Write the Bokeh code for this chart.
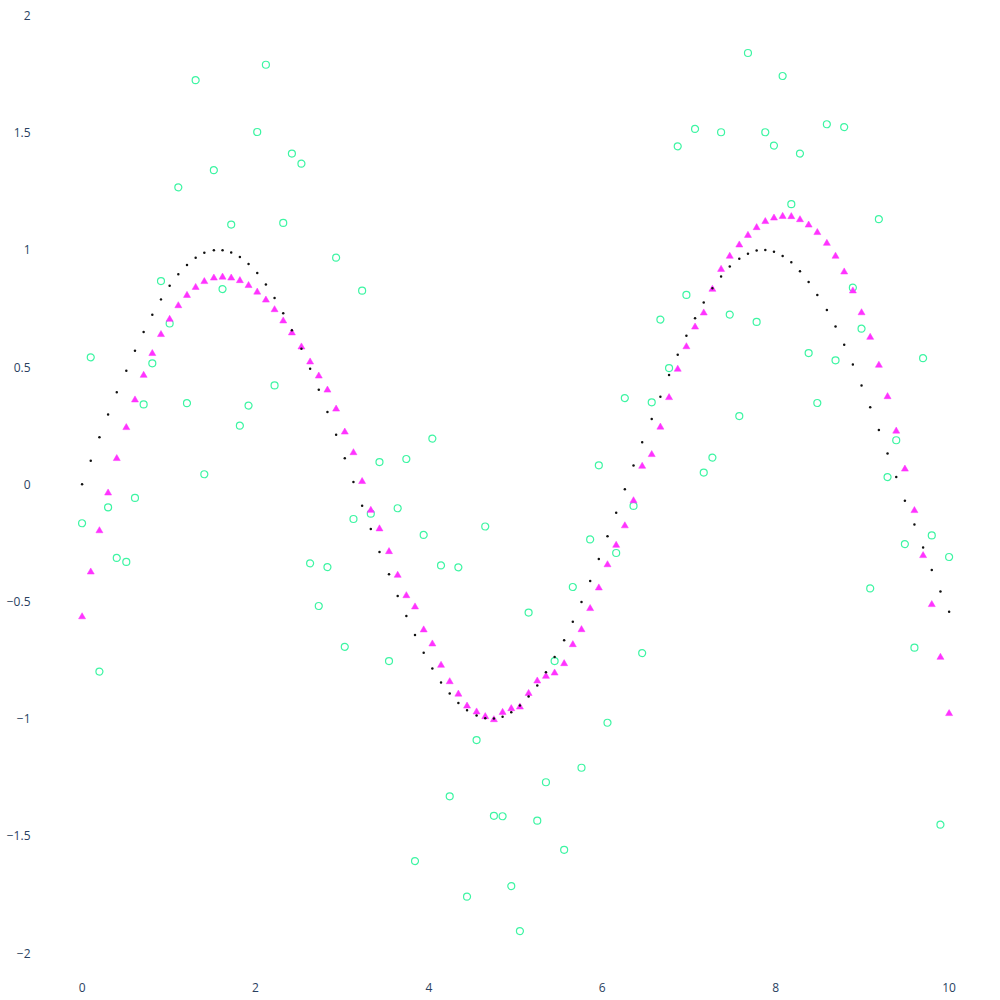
from bokeh.plotting import figure
from bokeh.models import Range1d, FixedTicker
from bokeh.embed import file_html
from bokeh.resources import INLINE

# x grid (100 evenly spaced samples from 0 to 10)
x_vals = [
    0.00, 0.10, 0.20, 0.30, 0.40, 0.51, 0.61, 0.71, 0.81, 0.91,
    1.01, 1.11, 1.21, 1.31, 1.41, 1.52, 1.62, 1.72, 1.82, 1.92,
    2.02, 2.12, 2.22, 2.32, 2.42, 2.53, 2.63, 2.73, 2.83, 2.93,
    3.03, 3.13, 3.23, 3.33, 3.43, 3.54, 3.64, 3.74, 3.84, 3.94,
    4.04, 4.14, 4.24, 4.34, 4.44, 4.55, 4.65, 4.75, 4.85, 4.95,
    5.05, 5.15, 5.25, 5.35, 5.45, 5.56, 5.66, 5.76, 5.86, 5.96,
    6.06, 6.16, 6.26, 6.36, 6.46, 6.57, 6.67, 6.77, 6.87, 6.97,
    7.07, 7.17, 7.27, 7.37, 7.47, 7.58, 7.68, 7.78, 7.88, 7.98,
    8.08, 8.18, 8.28, 8.38, 8.48, 8.59, 8.69, 8.79, 8.89, 8.99,
    9.09, 9.19, 9.29, 9.39, 9.49, 9.60, 9.70, 9.80, 9.90, 10.00,
]

# black dots
dots_y = [
    0.000, 0.101, 0.201, 0.298, 0.393, 0.484, 0.570, 0.650, 0.723, 0.789,
    0.847, 0.896, 0.936, 0.967, 0.988, 0.999, 0.999, 0.989, 0.970, 0.940,
    0.901, 0.852, 0.795, 0.730, 0.657, 0.578, 0.493, 0.403, 0.309, 0.212,
    0.111, 0.010, -0.091, -0.191, -0.289, -0.384, -0.476, -0.562, -0.643, -0.718,
    -0.786, -0.845, -0.892, -0.933, -0.964, -0.986, -0.998, -0.999, -0.991, -0.972,
    -0.944, -0.905, -0.858, -0.802, -0.737, -0.665, -0.586, -0.502, -0.412, -0.319,
    -0.222, -0.121, -0.021, 0.080, 0.180, 0.279, 0.374, 0.466, 0.553, 0.634,
    0.708, 0.776, 0.836, 0.887, 0.929, 0.962, 0.984, 0.997, 1.000, 0.992,
    0.974, 0.947, 0.909, 0.863, 0.808, 0.744, 0.673, 0.595, 0.511, 0.422,
    0.329, 0.232, 0.131, 0.031, -0.070, -0.171, -0.269, -0.365, -0.457, -0.544,
]

# magenta triangles
tri_y = [
    -0.565, -0.374, -0.198, -0.037, 0.110, 0.242, 0.360, 0.465, 0.558, 0.639,
    0.704, 0.762, 0.806, 0.840, 0.865, 0.880, 0.884, 0.880, 0.869, 0.848,
    0.820, 0.786, 0.745, 0.697, 0.646, 0.586, 0.522, 0.462, 0.402, 0.321,
    0.223, 0.135, 0.012, -0.111, -0.190, -0.287, -0.388, -0.475, -0.523, -0.621,
    -0.681, -0.772, -0.842, -0.895, -0.946, -0.971, -0.991, -1.004, -0.973, -0.957,
    -0.950, -0.892, -0.839, -0.819, -0.805, -0.765, -0.684, -0.620, -0.530, -0.442,
    -0.343, -0.260, -0.177, -0.070, 0.077, 0.127, 0.244, 0.370, 0.491, 0.587,
    0.671, 0.731, 0.832, 0.917, 0.973, 1.021, 1.062, 1.095, 1.121, 1.136,
    1.143, 1.142, 1.129, 1.106, 1.074, 1.028, 0.973, 0.906, 0.825, 0.732,
    0.627, 0.508, 0.374, 0.227, 0.065, -0.112, -0.304, -0.513, -0.738, -0.978,
]

# aquamarine open circles
circ_y = [
    -0.166, 0.542, -0.799, -0.098, -0.314, -0.331, -0.058, 0.341, 0.516, 0.867,
    0.686, 1.267, 0.346, 1.724, 0.043, 1.340, 0.833, 1.108, 0.250, 0.336,
    1.503, 1.790, 0.422, 1.115, 1.411, 1.368, -0.337, -0.519, -0.353, 0.967,
    -0.693, -0.148, 0.826, -0.125, 0.095, -0.754, -0.102, 0.108, -1.607, -0.216,
    0.195, -0.346, -1.331, -0.354, -1.759, -1.091, -0.180, -1.414, -1.416, -1.714,
    -1.906, -0.547, -1.435, -1.271, -0.754, -1.559, -0.438, -1.209, -0.235, 0.081,
    -1.017, -0.293, 0.368, -0.092, -0.720, 0.350, 0.703, 0.496, 1.442, 0.808,
    1.516, 0.050, 0.114, 1.502, 0.724, 0.291, 1.840, 0.693, 1.502, 1.445,
    1.742, 1.195, 1.411, 0.560, 0.347, 1.536, 0.529, 1.524, 0.839, 0.664,
    -0.444, 1.131, 0.031, 0.188, -0.255, -0.697, 0.538, -0.218, -1.452, -0.310,
]

x_ticks = [0, 2, 4, 6, 8, 10]
y_ticks = [-2, -1.5, -1, -0.5, 0, 0.5, 1, 1.5, 2]
y_tick_labels = ["\u22122", "\u22121.5", "\u22121", "\u22120.5", "0", "0.5", "1", "1.5", "2"]

p = figure(width=992, height=998, output_backend="svg", toolbar_location=None,
           x_range=Range1d(-0.445, 10.362), y_range=Range1d(-2.074, 2.064),
           min_border_left=43, min_border_right=12, min_border_top=0, min_border_bottom=28,
           background_fill_color="white", border_fill_color="white")
p.outline_line_color = None
p.grid.visible = False

p.scatter(x_vals, circ_y, marker="circle", size=7, fill_color=None,
          line_color="#3df5a3", line_width=1.2)
p.scatter(x_vals, tri_y, marker="triangle", size=7, fill_color="#ff33ff",
          line_color="#ff33ff", line_width=0.5)
p.scatter(x_vals, dots_y, marker="circle", size=2.5, fill_color="#111111",
          line_color=None)

for ax in (p.xaxis[0], p.yaxis[0]):
    ax.axis_line_color = None
    ax.major_tick_line_color = None
    ax.minor_tick_line_color = None
    ax.major_tick_out = 0
    ax.major_tick_in = 0
    ax.major_label_text_font = "Open Sans"
    ax.major_label_text_font_size = "12px"
    ax.major_label_text_color = "#2a3f5f"

p.xaxis[0].major_label_standoff = 12
p.yaxis[0].major_label_standoff = 13

p.xaxis[0].ticker = FixedTicker(ticks=x_ticks)
p.yaxis[0].ticker = FixedTicker(ticks=y_ticks)
p.yaxis[0].major_label_overrides = {t: lab for t, lab in zip(y_ticks, y_tick_labels)}

open("out.html", "w").write(file_html(p, INLINE))
